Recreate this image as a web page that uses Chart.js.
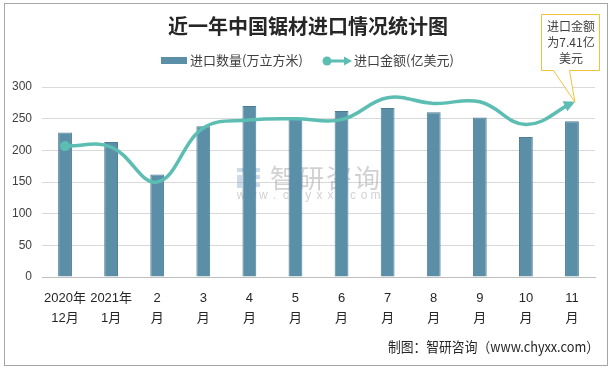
<!DOCTYPE html>
<html><head><meta charset="utf-8">
<script src="https://cdn.jsdelivr.net/npm/chart.js@4.4.0/dist/chart.umd.min.js"></script>
<style>html,body{margin:0;padding:0;background:#fff;}#wrap{width:613px;height:370px;position:relative;}</style>
</head><body><div id="wrap"><canvas id="c" width="613" height="370"></canvas></div>
<script>
const categories = [["2020年","12月"],["2021年","1月"],["2","月"],["3","月"],["4","月"],["5","月"],["6","月"],["7","月"],["8","月"],["9","月"],["10","月"],["11","月"]];
const volume = [228, 213, 162, 238, 270, 250, 262, 267, 260, 252, 221, 246];
const amount = [5.58, 5.54, 4.05, 6.35, 6.69, 6.75, 6.71, 7.64, 7.40, 7.47, 6.50, 7.41];
const yTicks = [0, 50, 100, 150, 200, 250, 300];
const titleText = "近一年中国锯材进口情况统计图";
const volumeLabel = "进口数量(万立方米)";
const amountLabel = "进口金额(亿美元)";
const calloutLines = ["进口金额", "为7.41亿", "美元"];
const footerText = "制图：智研咨询（www.chyxx.com）";
const watermarkText = "智研咨询";
const watermarkUrl = "www.chyxx.com";

const BAR = "#5b8fa7", BAR_EDGE = "#4b7d94", LINE = "#5cbdb2";
const CJK = "'Noto Sans CJK SC', sans-serif";
const NUM = "'Liberation Sans', 'Noto Sans CJK SC', sans-serif";

function arrowHead(ctx, tipX, tipY, fromX, fromY, len, half, color) {
  const a = Math.atan2(tipY - fromY, tipX - fromX);
  ctx.save();
  ctx.translate(tipX, tipY); ctx.rotate(a);
  ctx.fillStyle = color;
  ctx.beginPath(); ctx.moveTo(0, 0); ctx.lineTo(-len, -half); ctx.lineTo(-len, half); ctx.closePath(); ctx.fill();
  ctx.restore();
}

const deco = {
  id: 'deco',
  beforeDraw(chart) {
    const ctx = chart.ctx;
    ctx.save();
    ctx.fillStyle = '#fff'; ctx.fillRect(0, 0, chart.width, chart.height);
    ctx.strokeStyle = '#a6a6a6'; ctx.lineWidth = 1;
    ctx.strokeRect(4.5, 3.5, 603, 362);
    ctx.restore();
  },
  beforeDatasetsDraw(chart) {
    const ctx = chart.ctx;
    ctx.save();
    // watermark logo
    ctx.globalAlpha = 0.4;
    ctx.fillStyle = '#7fa3c8';
    ctx.fillRect(237, 168, 9, 4); ctx.fillRect(248, 168, 12, 4);
    ctx.fillRect(237, 175, 5, 13); ctx.fillRect(245, 175, 15, 4);
    ctx.fillRect(245, 183, 15, 4);
    ctx.globalAlpha = 0.45;
    ctx.fillStyle = '#9a9a9a';
    ctx.font = "26px " + CJK;
    ctx.textBaseline = 'middle'; ctx.textAlign = 'center';
    watermarkText.split('').forEach((ch, i) => ctx.fillText(ch, 283 + i * 28, 178));
    ctx.font = "12px " + NUM;
    watermarkUrl.split('').forEach((ch, i) => ctx.fillText(ch, 241 + i * 11.2, 196));
    ctx.restore();
  },
  afterDatasetsDraw(chart) {
    const ctx = chart.ctx;
    const meta = chart.getDatasetMeta(0);
    const pts = meta.data;
    const last = pts[pts.length - 1];
    const fx = last.cp1x !== undefined ? last.cp1x : pts[pts.length - 2].x;
    const fy = last.cp1y !== undefined ? last.cp1y : pts[pts.length - 2].y;
    arrowHead(ctx, last.x + 3, last.y - 1.5, fx, fy, 11, 5.5, LINE);
  },
  afterDraw(chart) {
    const ctx = chart.ctx;
    ctx.save();
    // title
    ctx.fillStyle = '#262626';
    ctx.font = "bold 20px " + CJK;
    ctx.textAlign = 'center'; ctx.textBaseline = 'middle';
    ctx.fillText(titleText, 308, 26);
    // legend
    ctx.font = "13px " + CJK;
    ctx.textAlign = 'left';
    ctx.fillStyle = BAR; ctx.fillRect(161, 57, 26, 7);
    ctx.fillStyle = '#404040';
    ctx.fillText(volumeLabel, 190, 60.5);
    ctx.strokeStyle = LINE; ctx.lineWidth = 3;
    ctx.beginPath(); ctx.moveTo(327, 61); ctx.lineTo(346, 61); ctx.stroke();
    ctx.fillStyle = LINE;
    ctx.beginPath(); ctx.arc(327, 61, 4.5, 0, Math.PI * 2); ctx.fill();
    arrowHead(ctx, 352, 61, 340, 61, 8, 4.5, LINE);
    ctx.fillStyle = '#404040';
    ctx.fillText(amountLabel, 354, 60.5);
    // footer
    ctx.font = "14px " + CJK;
    ctx.textAlign = 'right';
    ctx.fillStyle = '#262626';
    ctx.fillText(footerText, 599, 347, 211);
    // callout
    const meta = chart.getDatasetMeta(0);
    const last = meta.data[meta.data.length - 1];
    const bx = 541, by = 14, bw = 58, bh = 56;
    ctx.strokeStyle = '#f3c13a'; ctx.lineWidth = 1;
    ctx.fillStyle = '#fff';
    ctx.beginPath();
    ctx.moveTo(bx + 0.5, by + 0.5); ctx.lineTo(bx + bw + 0.5, by + 0.5); ctx.lineTo(bx + bw + 0.5, by + bh + 0.5);
    ctx.lineTo(569.5, by + bh + 0.5); ctx.lineTo(last.x + 3, last.y - 1);
    ctx.lineTo(553.5, by + bh + 0.5); ctx.lineTo(bx + 0.5, by + bh + 0.5); ctx.closePath();
    ctx.fill(); ctx.stroke();
    ctx.fillStyle = '#404040';
    ctx.font = "12px " + CJK;
    ctx.textAlign = 'center';
    calloutLines.forEach((t, i) => ctx.fillText(t, bx + bw / 2 + 1, 26 + i * 16));
    ctx.restore();
  }
};

new Chart(document.getElementById('c'), {
  type: 'bar',
  data: {
    labels: categories,
    datasets: [
      { type: 'line', label: amountLabel, data: amount, yAxisID: 'y2', order: 0,
        borderColor: LINE, backgroundColor: LINE, borderWidth: 3.5, tension: 0.4,
        pointRadius: amount.map((v, i) => i === 0 ? 5 : 0), pointHoverRadius: 0,
        pointBackgroundColor: LINE, pointBorderWidth: 0, clip: false },
      { type: 'bar', label: volumeLabel, data: volume, yAxisID: 'y', order: 1,
        backgroundColor: BAR, borderColor: BAR_EDGE, borderWidth: 1,
        barPercentage: 0.3, categoryPercentage: 1 }
    ]
  },
  options: {
    responsive: false, animation: false, devicePixelRatio: 1,
    layout: { padding: { top: 87, right: 18, bottom: 43, left: 0 } },
    plugins: { legend: { display: false }, tooltip: { enabled: false }, title: { display: false } },
    scales: {
      x: {
        grid: { display: false, drawTicks: false },
        border: { display: true, color: '#bfbfbf', width: 1 },
        ticks: { color: '#262626', font: { size: 13, family: NUM, lineHeight: 1.5 }, padding: 12, maxRotation: 0, autoSkip: false },
        afterFit(s) { s.height = 50; }
      },
      y: {
        min: 0, max: 300,
        afterBuildTicks(s) { s.ticks = yTicks.map(v => ({ value: v })); },
        grid: { color: '#d9d9d9', drawTicks: false },
        border: { display: false },
        ticks: { color: '#404040', font: { size: 12, family: NUM }, padding: 10 },
        afterFit(s) { s.width = 42; }
      },
      y2: { display: false, min: 0, max: 8.1, position: 'right' }
    }
  },
  plugins: [deco]
});
</script></body></html>
